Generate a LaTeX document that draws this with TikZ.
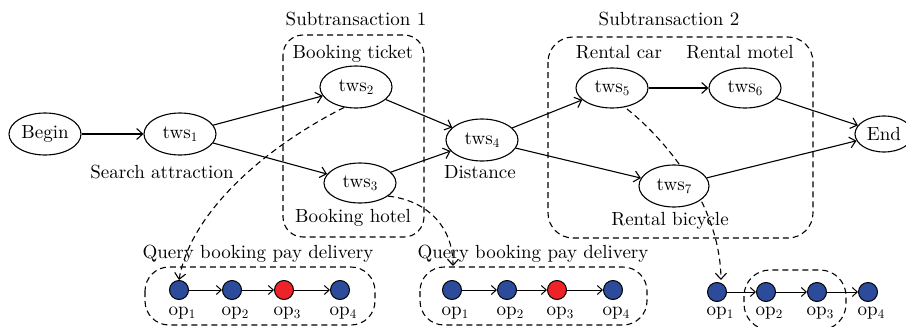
\documentclass[tikz,border=0pt]{standalone}
\usepackage{fontspec}
% text-size design of Latin Modern at every size
\setmainfont{lmroman10-regular}[Extension=.otf]
\usetikzlibrary{shapes.geometric,arrows.meta}
% lowered, smaller index digit for the service and operation names
\newcommand\lowidx[1]{\raisebox{-0.4ex}{\fontsize{13}{13}\selectfont #1}}
\definecolor{opblue}{HTML}{2D4B9B}
\definecolor{opred}{HTML}{EE2229}
\tikzset{
  every node/.style={font=\fontsize{19}{22}\selectfont},
  ws/.style={ellipse,draw,line width=1.1pt,fill=white,inner sep=0pt,
             minimum width=72pt,minimum height=42pt},
  lbl/.style={anchor=base,inner sep=0pt},
  flow/.style={line width=1.1pt,-{Straight Barb[length=6pt,width=11pt]}},
  link/.style={line width=1.1pt,dash pattern=on 6pt off 4pt,
               -{Straight Barb[length=6pt,width=11pt]}},
  grp/.style={line width=1.1pt,dash pattern=on 6pt off 4pt,rounded corners=20pt},
  opn/.style={circle,draw,line width=1pt,fill=opblue,minimum size=19pt,inner sep=0pt},
  chain/.style={line width=1pt,-{Straight Barb[length=5pt,width=9pt]}},
}
\begin{document}
\begin{tikzpicture}[x=1pt,y=-1pt]
\useasboundingbox (0,0) rectangle (906,327);

% subtransaction frames and titles
\draw[grp] (283,35) rectangle (424,237);
\draw[grp,rounded corners=25pt] (548,37) rectangle (813,238);
\node[lbl] (st1) at (356,25) {Subtransaction 1};
\node[lbl] (st2) at (669,25) {Subtransaction 2};

% operation groups
\draw[grp,rounded corners=24pt] (145,267) rectangle (375,325);
\draw[grp,rounded corners=24pt] (420,267) rectangle (647,325);
\draw[grp,rounded corners=26pt] (744,270) rectangle (846,330);
\node[lbl] (q1) at (258,258) {Query booking pay delivery};
\node[lbl] (q2) at (533,258) {Query booking pay delivery};

% operation nodes
\foreach \g/\y/\xa/\xb/\xc/\xd/\cc in {a/290/179/232/284/340/opred, b/290/452/507/557/613/opred, c/292/717/766/817/868/opblue}{
  \node[opn] (\g1) at (\xa,\y) {};
  \node[opn] (\g2) at (\xb,\y) {};
  \node[opn,fill=\cc] (\g3) at (\xc,\y) {};
  \node[opn] (\g4) at (\xd,\y) {};
  \node[lbl] at (\xa+3,315) {op\lowidx{1}};
  \node[lbl] at (\xb+3,315) {op\lowidx{2}};
  \node[lbl] at (\xc+3,315) {op\lowidx{3}};
  \node[lbl] at (\xd+3,315) {op\lowidx{4}};
  \draw[chain] (\g1) -- (\g2);
  \draw[chain] (\g2) -- (\g3);
  \draw[chain] (\g3) -- (\g4);
}

% service nodes
\node[ws] (begin) at (45,134) {Begin};
\node[ws] (t1) at (180,134) {tws\lowidx{1}};
\node[ws] (t2) at (356,87) {tws\lowidx{2}};
\node[ws,minimum height=40pt] (t3) at (360,183) {tws\lowidx{3}};
\node[ws] (t4) at (482,140) {tws\lowidx{4}};
\node[ws,minimum height=40pt] (t5) at (612,88) {tws\lowidx{5}};
\node[ws,minimum height=40pt] (t6) at (745,88) {tws\lowidx{6}};
\coordinate (t5s) at (627,109);
\coordinate (c1) at (721,280);
\draw[link] (t5s) .. controls (660,135) and (720,200) .. (c1);
\node[ws,minimum width=70pt] (t7) at (674,186) {tws\lowidx{7}};
\node[ws,minimum width=58pt,minimum height=36pt] (end) at (884,134) {End};

% service labels
\node[lbl] at (353,58) {Booking ticket};
\node[lbl] at (353,222) {Booking hotel};
\node[lbl] at (162,178) {Search attraction};
\node[lbl] at (480,178) {Distance};
\node[lbl] at (619,58) {Rental car};
\node[lbl] at (740,58) {Rental motel};
\node[lbl] at (670,225) {Rental bicycle};

% control flow
\draw[flow] (begin) -- (t1);
\draw[flow] (t1) -- (t2);
\draw[flow] (t1) -- (t3);
\draw[flow] (t2) -- (t4);
\draw[flow] (t3) -- (t4);
\draw[flow] (t4) -- (t5);
\draw[flow] (t4) -- (t7);
\draw[flow] (t5) -- (t6);
\draw[flow] (t6) -- (end);
\draw[flow] (t7) -- (end);

% links from services to their operations
\coordinate (b1top) at (453,266);
\draw[link] (t2.240) .. controls (260,150) and (190,215) .. (a1.north);
\draw[link] (t3.-25) .. controls (425,200) and (453,225) .. (b1top);
\end{tikzpicture}
\end{document}
